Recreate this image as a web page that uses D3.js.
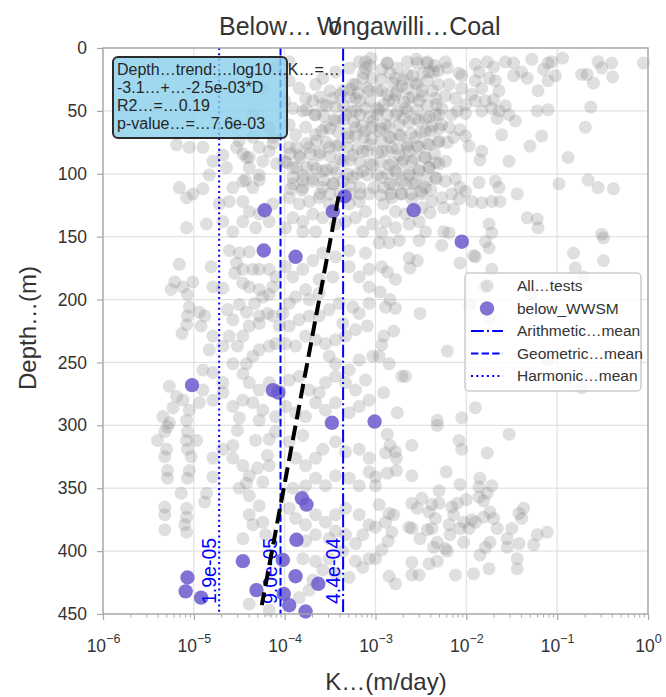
<!DOCTYPE html>
<html>
<head>
<meta charset="utf-8">
<script src="https://cdn.jsdelivr.net/npm/d3@7"></script>
<style>
  body { margin: 0; background: #fff; }
  text { font-family: "Liberation Sans", Arial, sans-serif; fill: #333; }
</style>
</head>
<body>
<div id="chart"></div>
<script>
// all hydraulic tests: [log10 K (m/day), depth (m)]
const allTests = [
  // shallow, high K
  [-2.87,12],[-2.55,9],[-2.43,12],[-2.36,19],[-2.41,19],[-2.23,11],[-2.21,16],[-2.08,20],[-2.05,22],[-1.90,13],
  [-1.86,19],[-1.77,11],[-1.70,15],[-1.57,11],[-1.48,12],[-1.48,22],[-1.39,19],[-1.33,24],[-1.28,9],[-1.10,12],
  [-1.06,11],[-1.15,17],[-1.02,22],[-0.94,8],[-1.10,26],[-1.21,34],[-0.73,21],[-0.67,21],[-0.60,28],[-0.55,11],
  [-0.51,16],[-0.40,12],[-0.39,23],[-0.05,12],[-2.65,21],[-2.78,24],[-2.84,20],[-2.93,17],[-2.71,30],[-2.56,28],
  [-2.49,34],[-2.63,40],[-2.78,37],[-2.93,34],[-2.98,48],[-2.85,42],[-2.67,48],[-2.52,42],[-2.34,40],[-2.23,38],
  [-2.19,29],[-2.05,32],[-2.12,40],[-1.94,37],[-1.90,26],[-1.83,32],[-1.75,24],[-1.68,26],[-1.64,34],[-1.70,41],
  [-1.79,42],[-1.90,42],[-2.01,45],[-2.01,52],[-2.10,50],[-2.16,53],[-2.27,48],[-2.34,53],[-2.45,56],[-2.56,56],
  [-2.69,56],[-2.78,53],[-2.89,61],[-2.96,66],[-2.85,71],[-2.74,69],[-2.65,77],[-2.56,71],[-2.45,66],[-2.38,62],
  [-2.27,61],[-2.19,63],[-2.07,65],[-2.01,70],[-2.14,71],[-2.21,75],[-2.30,74],[-2.41,77],[-2.52,79],[-2.63,82],
  [-2.74,85],[-2.82,79],[-2.93,82],[-2.85,93],[-2.71,91],[-2.60,90],[-2.45,87],[-2.34,91],[-2.23,90],[-2.41,95],
  [-2.52,98],[-2.63,101],[-2.78,98],[-2.93,103],[-2.84,108],[-2.71,106],[-2.58,108],[-2.45,111],[-2.34,103],[-2.23,106],
  [-2.12,104],[-2.07,111],[-2.16,116],[-2.27,119],[-2.38,122],[-2.49,116],[-2.60,120],[-2.71,116],[-2.82,119],[-2.91,124],
  [-2.78,130],[-2.67,132],[-2.49,127],[-2.40,131],[-2.25,127],[-2.14,128],[-2.08,120],[-1.94,122],[-1.83,123],[-1.72,122],
  [-1.63,122],[-1.64,111],[-1.68,106],[-1.86,107],[-2.01,114],[-1.44,116],[-1.83,82],[-1.85,89],[-1.97,78],[-1.61,69],
  [-1.53,90],[-1.30,78],[-1.17,70],[-1.10,49],[-1.22,50],[-1.57,46],[-1.64,50],[-1.66,56],[-1.53,53],[-1.46,58],
  [-1.72,48],[-1.83,50],[-0.69,63],[-0.63,47],[-0.88,87],[-0.98,108],[-0.66,105],[-0.55,111],[-0.38,112],[-1.33,135],
  [-1.22,136],[-1.21,143],[-1.75,140],[-1.72,147],[-2.89,138],[-2.78,143],[-2.63,140],[-2.52,138],[-2.45,146],[-2.25,146],
  [-2.19,147],[-2.93,147],[-0.51,148],
  // shallow, low K
  [-3.95,26],[-3.84,32],[-3.77,40],[-3.66,29],[-3.58,24],[-3.44,19],[-3.29,16],[-3.18,11],[-3.11,16],[-3.05,8],
  [-3.14,24],[-3.25,29],[-3.07,34],[-3.22,40],[-3.36,34],[-3.47,40],[-3.58,45],[-3.66,53],[-3.80,50],[-3.91,48],
  [-4.00,42],[-3.95,61],[-3.88,69],[-3.77,63],[-3.66,69],[-3.55,63],[-3.44,58],[-3.33,53],[-3.22,50],[-3.11,48],
  [-3.03,58],[-3.11,66],[-3.22,63],[-3.29,71],[-3.40,77],[-3.51,79],[-3.62,85],[-3.73,79],[-3.84,85],[-3.95,79],
  [-4.00,90],[-3.91,95],[-3.80,101],[-3.69,93],[-3.58,98],[-3.47,95],[-3.36,90],[-3.25,85],[-3.14,82],[-3.07,77],
  [-3.03,93],[-3.14,98],[-3.25,103],[-3.36,106],[-3.47,108],[-3.58,111],[-3.69,106],[-3.80,111],[-3.91,108],[-3.95,119],
  [-3.84,124],[-3.73,122],[-3.62,119],[-3.51,124],[-3.29,124],[-3.18,122],[-3.07,116],[-3.11,130],[-3.22,135],[-3.33,138],
  [-3.44,140],[-3.58,135],[-3.69,132],[-3.80,138],[-3.91,135],[-3.99,143],[-3.80,146],[-3.66,146],[-3.14,146],[-3.03,140],
  [-5.19,77],[-5.05,79],[-5.08,119],[-5.01,116],[-4.90,112],[-4.83,101],[-4.79,90],[-4.68,85],[-4.64,95],[-4.53,79],
  [-4.50,74],[-4.42,87],[-4.39,95],[-4.46,106],[-4.57,111],[-4.61,122],[-4.72,124],[-4.46,122],[-4.35,111],[-4.28,101],
  [-4.24,90],[-4.28,79],[-4.17,82],[-4.13,71],[-4.35,71],[-4.90,79],[-5.16,111],[-5.08,143],[-4.86,140],[-4.68,138],
  [-4.46,138],[-4.32,143],[-4.17,138],[-4.57,146],[-4.28,132],[-4.13,124],[-4.39,130],[-4.53,61],[-4.35,53],[-4.17,63],
  [-4.24,32],[-4.10,16],[-3.95,11],
  // shallow cluster around 1e-4 .. 5e-3
  [-3.11,11],[-3.06,14],[-2.87,12],[-2.76,16],[-2.65,11],[-2.54,12],[-2.43,11],[-2.35,14],[-2.31,18],[-2.48,20],
  [-2.59,22],[-2.70,25],[-2.81,28],[-2.94,25],[-3.04,24],[-3.13,20],[-3.22,29],[-3.28,33],[-3.19,36],[-3.09,32],
  [-2.98,34],[-2.87,37],[-2.76,34],[-2.65,32],[-2.54,29],[-2.43,26],[-2.31,29],[-2.37,34],[-2.48,38],[-2.59,39],
  [-2.69,43],[-2.80,42],[-2.91,45],[-2.96,49],[-3.06,42],[-3.17,42],[-3.28,39],[-3.39,37],[-3.50,34],[-3.61,39],
  [-3.54,46],[-3.44,47],[-3.35,46],[-3.26,50],[-3.17,53],[-3.07,55],[-2.98,53],[-2.87,53],[-2.76,51],[-2.65,50],
  [-2.54,49],[-2.43,46],[-2.33,45],[-2.30,53],[-2.41,55],[-2.52,58],[-2.63,59],[-2.74,61],[-2.85,62],[-2.94,64],
  [-3.04,63],[-3.15,62],[-3.24,59],[-3.35,57],[-3.46,57],[-3.57,54],[-3.67,53],[-3.76,49],[-3.69,42],[-3.59,66],
  [-3.50,64],[-3.41,67],[-3.31,68],[-3.22,70],[-3.13,71],[-3.04,72],[-2.94,74],[-2.83,71],[-2.72,70],[-2.61,68],
  [-2.50,67],[-2.39,66],[-2.30,64],[-2.31,75],[-2.43,76],[-2.54,78],[-2.65,79],[-2.76,80],[-2.87,82],[-2.98,83],
  [-3.09,82],[-3.20,80],[-3.31,79],[-3.43,78],[-3.54,75],[-3.65,74],[-3.76,76],[-3.87,79],[-3.94,84],[-3.83,87],
  [-3.72,84],[-3.61,83],[-3.50,86],[-3.39,88],[-3.28,89],[-3.17,91],[-3.06,92],[-2.94,91],[-2.81,91],[-2.69,89],
  [-2.57,88],[-2.46,87],[-2.35,84],[-2.30,92],[-2.41,95],[-2.52,97],[-2.63,99],[-2.76,100],[-2.87,100],[-2.98,101],
  [-3.09,101],[-3.20,100],[-3.31,100],[-3.43,99],[-3.54,97],[-3.65,96],[-3.76,95],[-3.87,95],[-3.98,91],[-3.91,103],
  [-3.80,105],[-3.69,104],[-3.57,105],[-3.46,108],[-3.28,109],[-3.17,111],[-3.02,111],[-2.91,111],[-2.80,109],[-2.67,108],
  [-2.56,107],[-2.44,105],[-2.33,104],[-2.39,113],[-2.50,114],[-2.61,116],[-2.72,116],[-2.83,116],[-2.94,117],[-3.17,116],
  [-3.28,116],[-3.39,116],[-3.50,116],[-3.61,116],[-3.81,113],[-3.93,112],[-4.39,87],[-4.28,105],[-4.13,76],[-4.09,92],
  [-4.43,105],[-4.46,84],
  // mid depth, low K
  [-5.16,172],[-5.21,186],[-5.25,192],[-5.12,190],[-5.01,186],[-5.07,196],[-5.05,206],[-5.07,213],[-5.08,220],[-5.13,227],
  [-4.92,221],[-4.88,213],[-4.94,210],[-4.79,190],[-4.81,174],[-4.68,191],[-4.63,208],[-4.57,216],[-4.61,229],[-4.79,229],
  [-4.83,240],[-4.68,237],[-4.57,251],[-4.52,237],[-4.46,229],[-4.39,221],[-4.28,219],[-4.42,210],[-4.50,204],[-4.55,179],
  [-4.53,171],[-4.50,163],[-4.39,162],[-4.61,161],[-4.46,187],[-4.39,190],[-4.28,192],[-4.24,198],[-4.33,203],[-4.17,196],
  [-4.13,190],[-4.10,182],[-4.17,176],[-4.28,176],[-4.35,176],[-4.46,176],[-3.99,174],[-3.91,182],[-3.80,176],[-3.69,169],
  [-3.58,163],[-3.44,166],[-3.29,161],[-3.11,163],[-3.07,176],[-3.18,182],[-3.29,174],[-3.47,182],[-3.62,184],[-3.77,192],
  [-3.88,198],[-3.95,203],[-4.02,211],[-4.13,213],[-4.19,211],[-4.28,213],[-4.06,221],[-3.95,221],[-3.84,216],[-3.73,213],
  [-3.62,213],[-3.51,208],[-3.40,203],[-3.25,206],[-3.18,211],[-3.07,203],[-3.09,221],[-3.22,224],[-3.33,229],[-3.44,232],
  [-3.55,235],[-3.66,232],[-3.77,229],[-3.88,237],[-3.99,235],[-4.10,235],[-4.17,237],[-4.28,240],[-4.35,245],[-4.42,251],
  [-4.46,259],[-4.39,266],[-4.28,272],[-4.17,266],[-4.06,272],[-3.95,264],[-3.84,261],[-3.73,272],[-3.62,274],[-3.55,266],
  [-3.44,261],[-3.33,266],[-3.22,272],[-3.11,264],[-3.07,280],[-3.18,285],[-3.29,290],[-3.44,282],[-3.55,288],[-3.66,282],
  [-3.77,293],[-3.88,290],[-3.99,285],[-4.10,293],[-4.24,288],[-4.35,282],[-4.46,280],[-4.57,285],[-4.68,274],[-4.79,280],
  [-4.90,272],[-4.94,282],[-5.05,288],[-5.12,280],[-5.23,286],[-5.34,293],[-5.27,298],[-5.08,296],[-4.50,294],[-4.28,296],
  [-4.90,256],[-4.79,258],[-4.68,266],[-5.27,269],[-5.19,277],[-3.51,245],[-3.44,251],[-3.29,256],[-3.18,248],[-3.03,245],
  [-3.36,219],[-3.07,190],[-3.73,200],[-3.62,195],
  // mid depth, high K
  [-2.96,155],[-2.85,155],[-2.74,153],[-2.52,153],[-2.27,157],[-1.90,166],[-1.75,159],[-1.79,154],[-2.93,174],[-2.87,178],
  [-2.63,167],[-2.54,169],[-2.62,175],[-2.78,184],[-2.95,194],[-2.84,200],[-2.89,206],[-2.78,207],[-2.51,211],[-2.91,229],
  [-2.93,236],[-2.80,225],[-2.96,245],[-2.85,251],[-2.71,261],[-2.67,261],[-2.21,241],[-2.07,171],[-1.92,165],[-1.72,176],
  [-1.81,190],[-1.96,204],[-1.74,216],[-0.80,175],[-0.82,163],[-0.49,169],[-0.71,182],[-0.49,151],[-1.28,196],[-1.10,248],
  [-0.73,270],[-1.90,286],[-2.05,294],[-2.32,296],[-2.76,290],[-2.91,274],
  // deep, low K
  [-5.40,312],[-5.32,305],[-5.29,301],[-5.30,319],[-5.32,325],[-5.07,305],[-5.08,312],[-5.07,319],[-5.03,325],[-4.97,312],
  [-5.05,336],[-5.07,342],[-5.29,336],[-5.29,342],[-5.14,354],[-5.32,365],[-5.32,371],[-5.32,383],[-5.08,366],[-5.08,373],
  [-5.10,379],[-5.08,385],[-4.86,354],[-4.88,361],[-4.79,341],[-4.79,326],[-4.68,319],[-4.57,316],[-4.57,326],[-4.52,304],
  [-4.46,332],[-4.39,340],[-4.42,346],[-4.32,312],[-4.17,311],[-4.10,305],[-4.19,324],[-4.17,332],[-4.30,334],[-4.24,345],
  [-4.50,350],[-4.39,356],[-4.28,364],[-4.39,371],[-4.35,379],[-4.24,377],[-4.21,387],[-4.46,390],[-3.95,313],[-3.80,308],
  [-3.88,326],[-3.77,332],[-3.66,326],[-3.58,319],[-3.44,313],[-3.33,321],[-3.18,319],[-3.07,326],[-3.07,337],[-3.18,348],
  [-3.29,342],[-3.44,340],[-3.55,348],[-3.66,342],[-3.77,348],[-3.91,350],[-3.95,366],[-3.88,374],[-3.77,379],[-3.66,371],
  [-3.55,377],[-3.44,371],[-3.33,366],[-3.18,371],[-3.07,379],[-3.14,387],[-3.22,394],[-3.33,387],[-3.44,384],[-3.51,390],
  [-3.66,387],[-3.77,392],[-3.80,406],[-3.66,408],[-3.51,406],[-3.36,400],[-3.22,408],[-3.07,406],[-3.14,413],[-3.29,421],
  [-3.44,418],[-3.58,415],[-3.69,423],[-3.73,431],[-3.84,437],[-4.17,447],[-4.39,442],
  // deep, high K
  [-2.87,307],[-2.84,316],[-2.78,321],[-2.89,322],[-2.77,326],[-2.60,316],[-2.60,340],[-2.77,336],[-2.87,338],[-3.00,341],
  [-3.00,348],[-2.22,337],[-2.08,312],[-2.05,319],[-1.77,322],[-1.53,307],[-2.32,300],[-1.85,342],[-1.86,349],[-1.72,348],
  [-1.77,354],[-1.86,357],[-2.07,347],[-2.00,359],[-1.81,360],[-2.30,352],[-2.49,358],[-2.60,362],[-2.54,366],[-2.38,363],
  [-2.30,362],[-2.16,365],[-2.10,362],[-2.41,369],[-2.34,374],[-2.14,371],[-2.03,377],[-1.94,375],[-1.90,377],[-1.81,373],
  [-1.74,369],[-1.70,374],[-1.66,382],[-1.74,393],[-1.79,397],[-1.85,403],[-1.55,390],[-1.55,397],[-1.50,382],[-1.42,394],
  [-1.42,370],[-1.37,366],[-1.39,374],[-1.26,395],[-1.22,387],[-1.11,385],[-1.44,406],[-1.44,414],[-1.75,414],[-1.92,418],
  [-2.12,419],[-2.32,408],[-2.41,410],[-2.60,409],[-2.60,419],[-2.52,419],[-2.85,420],[-2.78,426],[-2.96,363],[-2.85,370],
  [-2.80,371],[-2.89,377],[-3.00,381],[-2.82,385],[-2.86,392],[-2.93,399],[-3.00,406],[-2.63,381],[-2.60,382],[-2.51,390],
  [-2.38,382],[-2.43,383],[-2.32,393],[-2.36,397],[-2.23,398],[-2.21,400],[-2.18,387],[-2.19,379],[-2.07,382],[-2.03,393],
  [-1.97,382]
];

// tests below the Wongawilli seam: [log10 K (m/day), depth (m)]
const belowWWSM = [
  [-3.34,118],[-4.22,129],[-3.47,130],[-2.58,129],[-2.05,154],[-4.23,161],[-3.88,166],[-5.02,268],[-4.13,272],[-4.07,274],
  [-3.48,298],[-3.01,297],[-3.81,358],[-3.76,363],[-3.87,391],[-4.46,408],[-4.02,407],[-3.88,420],[-5.07,421],[-5.09,432],
  [-4.92,437],[-4.31,431],[-4.01,434],[-3.63,426],[-3.95,443],[-3.77,448]
];

// mean K of below_WWSM tests (m/day)
const means = [
  { name: "Arithmetic…mean", value: 4.4e-4, label: "4.4e-04", dash: "12.8,3.2,2,3.2" },
  { name: "Geometric…mean", value: 9.0e-5, label: "9.0e-05", dash: "7.4,3.2" },
  { name: "Harmonic…mean", value: 1.9e-5, label: "1.9e-05", dash: "2,3.3" }
];

// depth trend: log10 K = a + b*D
const trendIntercept = -3.1;
const trendSlope = -2.6e-3;
const trendDepths = [118, 443];
const annotationLines = ["Depth…trend:…log10…K…=…", "-3.1…+…-2.5e-03*D", "R2…=…0.19", "p-value…=…7.6e-03"];

const xDecades = [-6, -5, -4, -3, -2, -1, 0];
const yTicks = [0, 50, 100, 150, 200, 250, 300, 350, 400, 450];

const width = 666, height = 697;
const margin = { top: 48, right: 18, bottom: 83, left: 103 };

const svg = d3.select("#chart").append("svg")
  .attr("width", width)
  .attr("height", height);

const x = d3.scaleLog().domain([1e-6, 1]).range([margin.left, width - margin.right]);
const y = d3.scaleLinear().domain([0, 450]).range([margin.top, height - margin.bottom]);

// grid
const grid = svg.append("g");
grid.selectAll("line.vx")
  .data(xDecades)
  .join("line")
  .attr("x1", d => x(10 ** d)).attr("x2", d => x(10 ** d))
  .attr("y1", y(0)).attr("y2", y(450))
  .attr("stroke", "#e2e2e2").attr("stroke-width", 1.2);
grid.selectAll("line.hy")
  .data(yTicks)
  .join("line")
  .attr("x1", x(1e-6)).attr("x2", x(1))
  .attr("y1", d => y(d)).attr("y2", d => y(d))
  .attr("stroke", "#e2e2e2").attr("stroke-width", 1.2);

// scatter
svg.append("g").selectAll("circle")
  .data(allTests)
  .join("circle")
  .attr("cx", d => x(10 ** d[0]))
  .attr("cy", d => y(d[1]))
  .attr("r", 6.5)
  .attr("fill", "#808080")
  .attr("fill-opacity", 0.25);

svg.append("g").selectAll("circle")
  .data(belowWWSM)
  .join("circle")
  .attr("cx", d => x(10 ** d[0]))
  .attr("cy", d => y(d[1]))
  .attr("r", 7.2)
  .attr("fill", "#6a5acd")
  .attr("fill-opacity", 0.85);

// mean lines + labels
svg.append("g").selectAll("line")
  .data(means)
  .join("line")
  .attr("x1", d => x(d.value)).attr("x2", d => x(d.value))
  .attr("y1", y(0)).attr("y2", y(450))
  .attr("stroke", "#0000ff")
  .attr("stroke-width", 2)
  .attr("stroke-dasharray", d => d.dash);

svg.append("g").selectAll("text")
  .data(means)
  .join("text")
  .attr("transform", d => `translate(${x(d.value) - 3.5},${y(450) - 10}) rotate(-90)`)
  .style("font-size", "19.5px")
  .style("fill", "#0000ff")
  .text(d => d.label);

// trend line
const trendLine = d3.line()
  .x(d => x(10 ** (trendIntercept + trendSlope * d)))
  .y(d => y(d));
svg.append("path")
  .attr("d", trendLine(trendDepths))
  .attr("fill", "none")
  .attr("stroke", "#000")
  .attr("stroke-width", 4)
  .attr("stroke-dasharray", "14.8,6.4");

// spines
svg.append("rect")
  .attr("x", x(1e-6)).attr("y", y(0))
  .attr("width", x(1) - x(1e-6)).attr("height", y(450) - y(0))
  .attr("fill", "none")
  .attr("stroke", "#a8a8a8")
  .attr("stroke-width", 1.4);

// y axis
const yAxis = svg.append("g")
  .attr("transform", `translate(${x(1e-6)},0)`)
  .call(d3.axisLeft(y).tickValues(yTicks).tickSize(6).tickPadding(10));
yAxis.select(".domain").remove();
yAxis.selectAll(".tick line").attr("stroke", "#a8a8a8").attr("stroke-width", 1.2);
yAxis.selectAll(".tick text").style("font-size", "17.5px").attr("fill", "#333")
  .style("font-family", '"Liberation Sans", Arial, sans-serif');

// x axis, minor then major
const minorTicks = [];
xDecades.slice(0, -1).forEach(d => {
  for (let k = 2; k <= 9; k++) minorTicks.push(k * 10 ** d);
});
const xMinor = svg.append("g")
  .attr("transform", `translate(0,${y(450)})`)
  .call(d3.axisBottom(x).tickValues(minorTicks).tickSize(3.5).tickFormat(""));
xMinor.select(".domain").remove();
xMinor.selectAll(".tick line").attr("stroke", "#a8a8a8").attr("stroke-width", 1);

const xAxis = svg.append("g")
  .attr("transform", `translate(0,${y(450)})`)
  .call(d3.axisBottom(x).tickValues(xDecades.map(d => 10 ** d)).tickSize(6));
xAxis.select(".domain").remove();
xAxis.selectAll(".tick line").attr("stroke", "#a8a8a8").attr("stroke-width", 1.2);
xAxis.selectAll(".tick text").each(function(d) {
  const p = Math.round(Math.log10(d));
  const t = d3.select(this).text(null)
    .attr("y", 38).attr("dy", null)
    .attr("fill", "#333")
    .style("font-family", '"Liberation Sans", Arial, sans-serif');
  t.append("tspan").style("font-size", "17.5px").text("10");
  t.append("tspan").attr("dy", -9).style("font-size", "12.5px")
    .text(p < 0 ? "\u2212" + Math.abs(p) : String(p));
});

// axis labels + title
svg.append("text")
  .attr("x", 386).attr("y", 690)
  .attr("text-anchor", "middle")
  .style("font-size", "24px")
  .text("K…(m/day)");

svg.append("text")
  .attr("transform", "translate(36,328) rotate(-90)")
  .attr("text-anchor", "middle")
  .style("font-size", "24px")
  .text("Depth…(m)");

const title = svg.append("text")
  .attr("x", 219).attr("y", 35)
  .style("font-size", "25px");
title.append("tspan").text("Below…");
title.append("tspan").attr("dx", 5).text("W");
title.append("tspan").attr("dx", -12).text("ongawilli…Coal");

// annotation box
svg.append("rect")
  .attr("x", 113).attr("y", 57)
  .attr("width", 174).attr("height", 81)
  .attr("rx", 5)
  .attr("fill", "#87ceeb").attr("fill-opacity", 0.8)
  .attr("stroke", "#2b2b2b").attr("stroke-width", 2);
svg.append("g").selectAll("text")
  .data(annotationLines)
  .join("text")
  .attr("x", 117)
  .attr("y", (d, i) => 75 + i * 18)
  .style("font-size", "16px")
  .style("fill", "#262626")
  .text(d => d);

// legend
const legend = svg.append("g").attr("transform", "translate(465,273)");
legend.append("rect")
  .attr("width", 176).attr("height", 118)
  .attr("rx", 4)
  .attr("fill", "#fff").attr("fill-opacity", 0.8)
  .attr("stroke", "#cccccc").attr("stroke-width", 1.5);
const legendItems = [
  { name: "All…tests", kind: "grey" },
  { name: "below_WWSM", kind: "purple" }
].concat(means.map(m => ({ name: m.name, kind: "line", dash: m.dash })));
const rows = legend.selectAll("g.row")
  .data(legendItems)
  .join("g")
  .attr("transform", (d, i) => `translate(0,${13 + i * 22.5})`);
rows.filter(d => d.kind === "grey").append("circle")
  .attr("cx", 22).attr("r", 6.5).attr("fill", "#808080").attr("fill-opacity", 0.25);
rows.filter(d => d.kind === "purple").append("circle")
  .attr("cx", 22).attr("r", 7.2).attr("fill", "#6a5acd").attr("fill-opacity", 0.85);
rows.filter(d => d.kind === "line").append("line")
  .attr("x1", 6).attr("x2", 38)
  .attr("stroke", "#0000ff").attr("stroke-width", 2)
  .attr("stroke-dasharray", d => d.dash);
rows.append("text")
  .attr("x", 52).attr("dy", "0.35em")
  .style("font-size", "15.5px")
  .text(d => d.name);
</script>
</body>
</html>
